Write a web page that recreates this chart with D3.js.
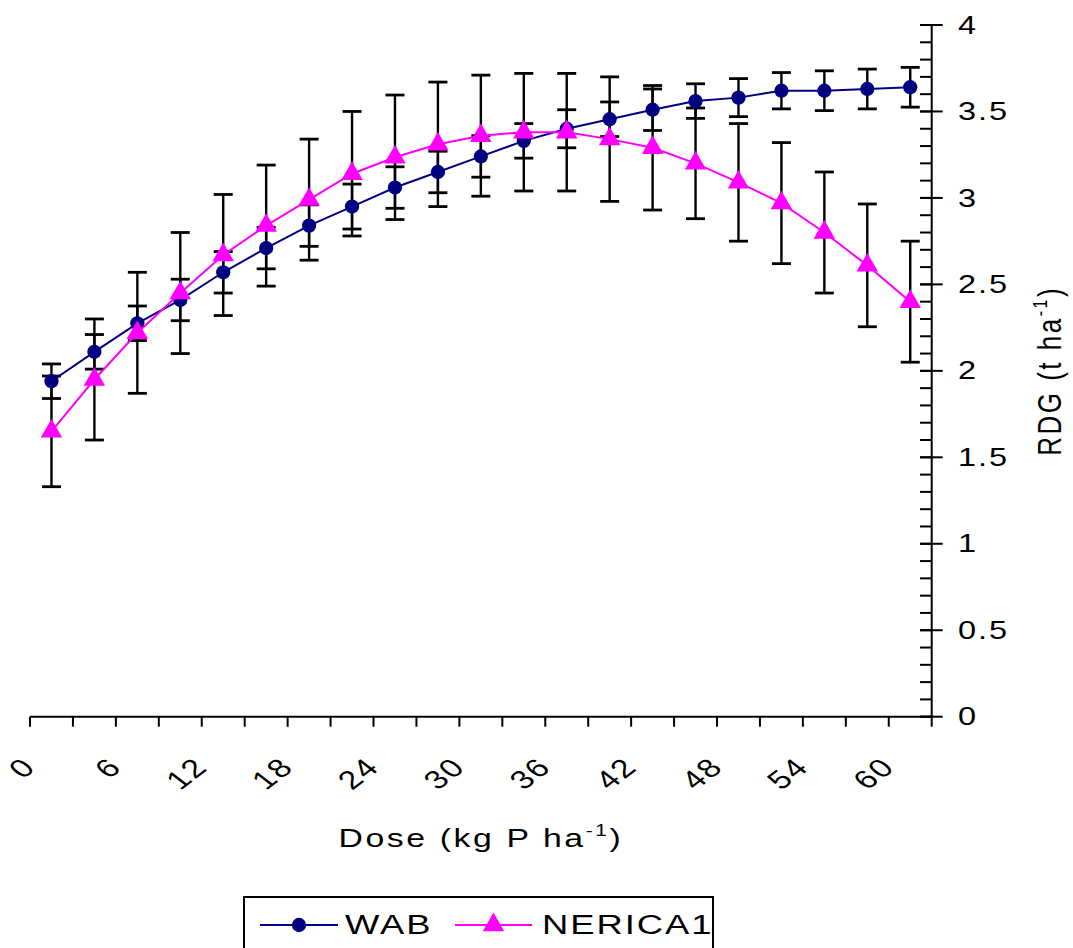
<!DOCTYPE html>
<html><head><meta charset="utf-8">
<script src="https://cdn.jsdelivr.net/npm/d3@7"></script>
<style>
html,body{margin:0;padding:0;background:#fff;}
svg{display:block;}
text{font-family:"Liberation Sans",Arial,sans-serif;fill:#000;}
</style></head>
<body>
<svg id="c" width="1073" height="948"></svg>
<script>
// ---- data ----
const doses = [0,3,6,9,12,15,18,21,24,27,30,33,36,39,42,45,48,51,54,57,60];
const doseLabels = [0,6,12,18,24,30,36,42,48,54,60];
const wab = [1.94,2.11,2.275,2.41,2.57,2.71,2.84,2.95,3.06,3.15,3.24,3.33,3.40,3.455,3.51,3.56,3.58,3.62,3.62,3.63,3.64];
const wabErr = [0.1,0.1,0.1,0.12,0.12,0.12,0.12,0.13,0.12,0.12,0.12,0.1,0.11,0.1,0.12,0.1,0.11,0.105,0.115,0.115,0.115];
const nerica = [1.65,1.95,2.22,2.45,2.67,2.84,2.99,3.14,3.235,3.31,3.36,3.38,3.38,3.34,3.29,3.20,3.09,2.97,2.80,2.61,2.40];
const nericaErr = [0.32,0.35,0.35,0.35,0.35,0.35,0.35,0.36,0.36,0.36,0.35,0.34,0.34,0.36,0.36,0.32,0.34,0.35,0.35,0.355,0.35];
const yMajor = [0,0.5,1,1.5,2,2.5,3,3.5,4];
const seriesNames = ["WAB","NERICA1"];
const colors = ["#000080","#FF00FF"];

// ---- layout ----
const L = 30, R = 931.7, T = 25, B = 716.7;
const SX = 1.3; // horizontal stretch of the text
const svg = d3.select("#c");
const x = d3.scaleBand().domain(doses).range([L, R]).paddingInner(0).paddingOuter(0);
const cx = d => x(d) + x.bandwidth()/2;
const y = d3.scaleLinear().domain([0,4]).range([B, T]);

// x axis
const gx = svg.append("g");
gx.append("line").attr("x1",L).attr("x2",R).attr("y1",B).attr("y2",B).attr("stroke","#000").attr("stroke-width",2);
const edges = doses.map(d => x(d)).concat([R]);
gx.selectAll("line.t").data(edges).enter().append("line")
  .attr("x1",d=>d).attr("x2",d=>d).attr("y1",B).attr("y2",B+10)
  .attr("stroke","#000").attr("stroke-width",2);
gx.selectAll("text").data(doseLabels).enter().append("text")
  .attr("transform", d => `translate(${cx(d)-22},762) scale(${SX},1) rotate(-45)`)
  .attr("text-anchor","end").attr("dominant-baseline","central")
  .attr("font-size",26).attr("letter-spacing",1.5).text(d=>d);

// y axis (right)
const minor = d3.range(0,41).map(i=>i/10);
const gy = svg.append("g");
gy.append("line").attr("x1",R).attr("x2",R).attr("y1",T).attr("y2",B).attr("stroke","#000").attr("stroke-width",2);
gy.selectAll("line.mi").data(minor).enter().append("line")
  .attr("x1",R-11.7).attr("x2",R).attr("y1",d=>y(d)).attr("y2",d=>y(d))
  .attr("stroke","#000").attr("stroke-width",2);
gy.selectAll("line.ma").data(yMajor).enter().append("line")
  .attr("x1",R-11.7).attr("x2",R+11).attr("y1",d=>y(d)).attr("y2",d=>y(d))
  .attr("stroke","#000").attr("stroke-width",2);
gy.selectAll("text").data(yMajor).enter().append("text")
  .attr("transform", d => `translate(958,${y(d)}) scale(${SX},1)`)
  .attr("dominant-baseline","central").attr("font-size",25).attr("letter-spacing",1.5)
  .text(d=>d);

// axis titles
const xt = svg.append("text").attr("transform",`translate(${(L+R)/2},847) scale(${SX},1)`)
  .attr("text-anchor","middle").attr("font-size",26).attr("letter-spacing",2);
xt.append("tspan").text("Dose (kg P ha");
xt.append("tspan").attr("dy",-11).attr("font-size",16).text("-1");
xt.append("tspan").attr("dy",11).text(")");

const yt = svg.append("text").attr("transform",`translate(1061,${(T+B)/2}) scale(${SX},1) rotate(-90)`)
  .attr("text-anchor","middle").attr("font-size",26).attr("letter-spacing",2.5);
yt.append("tspan").text("RDG (t ha");
yt.append("tspan").attr("dy",-11).attr("font-size",16).text("-1");
yt.append("tspan").attr("dy",11).text(")");

// error bars
const series = [
  {vals:wab, err:wabErr, color:colors[0], sym:d3.symbolCircle, size:160},
  {vals:nerica, err:nericaErr, color:colors[1], sym:d3.symbolTriangle, size:200}
];
const gErr = svg.append("g").attr("stroke","#000").attr("stroke-width",2.4);
series.forEach(s => {
  doses.forEach((d,i) => {
    const X = cx(d), y1 = y(s.vals[i]+s.err[i]), y2 = y(s.vals[i]-s.err[i]);
    gErr.append("line").attr("x1",X).attr("x2",X).attr("y1",y1).attr("y2",y2);
    gErr.append("line").attr("x1",X-9.5).attr("x2",X+9.5).attr("y1",y1).attr("y2",y1).attr("stroke-width",2.8);
    gErr.append("line").attr("x1",X-9.5).attr("x2",X+9.5).attr("y1",y2).attr("y2",y2).attr("stroke-width",2.8);
  });
});

// lines + markers
const line = d3.line().x((v,i)=>cx(doses[i])).y(v=>y(v));
series.forEach(s => {
  svg.append("path").attr("d",line(s.vals)).attr("fill","none").attr("stroke",s.color).attr("stroke-width",2);
  svg.selectAll(null).data(s.vals).enter().append("path")
    .attr("d", d3.symbol().type(s.sym).size(s.size))
    .attr("transform",(v,i)=>`translate(${cx(doses[i])},${y(v)})`)
    .attr("fill",s.color);
});

// legend
const lg = svg.append("g");
lg.append("rect").attr("x",244).attr("y",897).attr("width",469).attr("height",70)
  .attr("fill","#fff").attr("stroke","#000").attr("stroke-width",2);
const legItems = [
  {x1:260,x2:338,tx:345},
  {x1:455,x2:532,tx:542}
];
legItems.forEach((it,k) => {
  const s = series[k];
  lg.append("line").attr("x1",it.x1).attr("x2",it.x2).attr("y1",925).attr("y2",925).attr("stroke",s.color).attr("stroke-width",2);
  lg.append("path").attr("d",d3.symbol().type(s.sym).size(s.size)()).attr("transform",`translate(${(it.x1+it.x2)/2},925)`).attr("fill",s.color);
  lg.append("text").attr("transform",`translate(${it.tx},925) scale(${SX},1)`)
    .attr("dominant-baseline","central").attr("font-size",28).attr("letter-spacing",1.5)
    .text(seriesNames[k]);
});
</script>
</body></html>
